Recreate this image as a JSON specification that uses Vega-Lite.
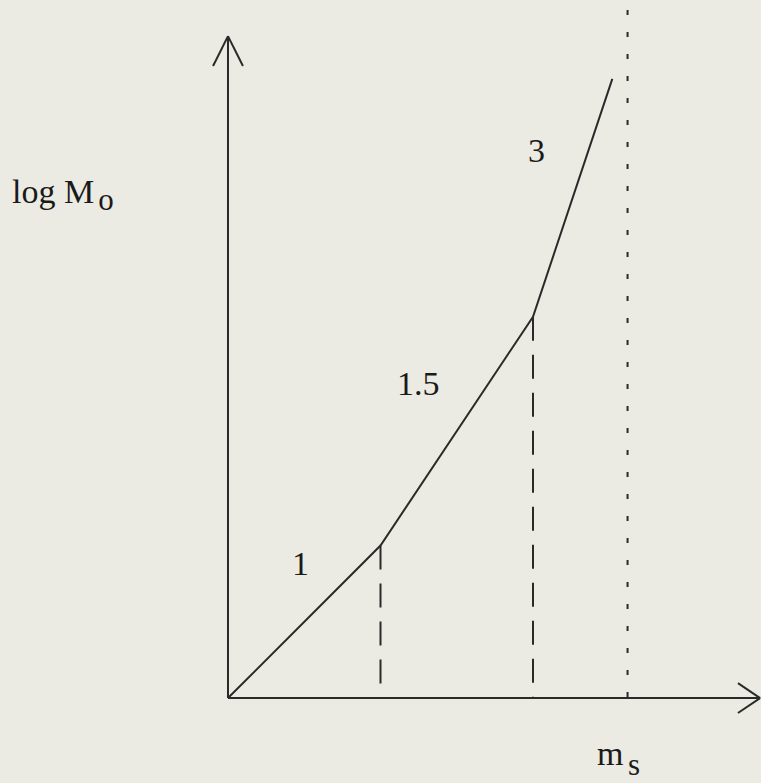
{
  "$schema": "https://vega.github.io/schema/vega-lite/v6.json",
  "width": 761,
  "height": 783,
  "padding": 0,
  "autosize": {"type": "none"},
  "background": "#ecebe3",
  "config": {"view": {"stroke": null}},
  "datasets": {
    "axes": [
      {"m": 0, "logM": 0, "m2": 0, "logM2": 4.34},
      {"m": 0, "logM": 4.34, "m2": -0.098, "logM2": 4.144},
      {"m": 0, "logM": 4.34, "m2": 0.098, "logM2": 4.144},
      {"m": 0, "logM": 0, "m2": 3.489, "logM2": 0},
      {"m": 3.489, "logM": 0, "m2": 3.344, "logM2": 0.098},
      {"m": 3.489, "logM": 0, "m2": 3.344, "logM2": -0.098}
    ],
    "breaks": [
      {"m": 1, "logM": 1, "m2": 1, "logM2": 0},
      {"m": 2, "logM": 2.5, "m2": 2, "logM2": 0}
    ],
    "limit": [
      {"m": 2.62, "logM": 4.577, "m2": 2.62, "logM2": 0}
    ],
    "relation": [
      {"m": 0, "logM": 0},
      {"m": 1, "logM": 1},
      {"m": 2, "logM": 2.5},
      {"m": 2.52, "logM": 4.06}
    ],
    "labels": [
      {"m": -1.416, "logM": 3.246, "label": "log M"},
      {"m": 2.42, "logM": -0.439, "label": "m"},
      {"m": 0.42, "logM": 0.807, "label": "1"},
      {"m": 1.108, "logM": 1.987, "label": "1.5"},
      {"m": 1.967, "logM": 3.515, "label": "3"}
    ],
    "subscripts": [
      {"m": -0.85, "logM": 3.2, "label": "o"},
      {"m": 2.623, "logM": -0.505, "label": "s"}
    ]
  },
  "layer": [
    {
      "data": {"name": "axes"},
      "mark": {"type": "rule", "color": "#2a2a2a", "strokeWidth": 2},
      "encoding": {
        "x": {"field": "m", "type": "quantitative", "axis": null, "scale": {"domain": [-1.495, 3.495], "nice": false, "zero": false}},
        "y": {"field": "logM", "type": "quantitative", "axis": null, "scale": {"domain": [-0.557, 4.577], "nice": false, "zero": false}},
        "x2": {"field": "m2"},
        "y2": {"field": "logM2"}
      }
    },
    {
      "data": {"name": "breaks"},
      "mark": {"type": "rule", "color": "#2a2a2a", "strokeWidth": 2, "strokeDash": [24, 14]},
      "encoding": {
        "x": {"field": "m", "type": "quantitative", "axis": null, "scale": {"domain": [-1.495, 3.495], "nice": false, "zero": false}},
        "y": {"field": "logM", "type": "quantitative", "axis": null, "scale": {"domain": [-0.557, 4.577], "nice": false, "zero": false}},
        "x2": {"field": "m2"},
        "y2": {"field": "logM2"}
      }
    },
    {
      "data": {"name": "limit"},
      "mark": {"type": "rule", "color": "#2a2a2a", "strokeWidth": 2, "strokeDash": [5, 17], "strokeDashOffset": -10},
      "encoding": {
        "x": {"field": "m", "type": "quantitative", "axis": null, "scale": {"domain": [-1.495, 3.495], "nice": false, "zero": false}},
        "y": {"field": "logM", "type": "quantitative", "axis": null, "scale": {"domain": [-0.557, 4.577], "nice": false, "zero": false}},
        "x2": {"field": "m2"},
        "y2": {"field": "logM2"}
      }
    },
    {
      "data": {"name": "relation"},
      "mark": {"type": "line", "color": "#2a2a2a", "strokeWidth": 2},
      "encoding": {
        "x": {"field": "m", "type": "quantitative", "axis": null, "scale": {"domain": [-1.495, 3.495], "nice": false, "zero": false}},
        "y": {"field": "logM", "type": "quantitative", "axis": null, "scale": {"domain": [-0.557, 4.577], "nice": false, "zero": false}},
        "order": {"field": "m", "type": "quantitative"}
      }
    },
    {
      "data": {"name": "labels"},
      "mark": {"type": "text", "font": "Liberation Serif", "fontSize": 34, "align": "left", "baseline": "alphabetic", "color": "#1a1a1a"},
      "encoding": {
        "x": {"field": "m", "type": "quantitative", "axis": null, "scale": {"domain": [-1.495, 3.495], "nice": false, "zero": false}},
        "y": {"field": "logM", "type": "quantitative", "axis": null, "scale": {"domain": [-0.557, 4.577], "nice": false, "zero": false}},
        "text": {"field": "label"}
      }
    },
    {
      "data": {"name": "subscripts"},
      "mark": {"type": "text", "font": "Liberation Serif", "fontSize": 31, "align": "left", "baseline": "alphabetic", "color": "#1a1a1a"},
      "encoding": {
        "x": {"field": "m", "type": "quantitative", "axis": null, "scale": {"domain": [-1.495, 3.495], "nice": false, "zero": false}},
        "y": {"field": "logM", "type": "quantitative", "axis": null, "scale": {"domain": [-0.557, 4.577], "nice": false, "zero": false}},
        "text": {"field": "label"}
      }
    }
  ]
}
